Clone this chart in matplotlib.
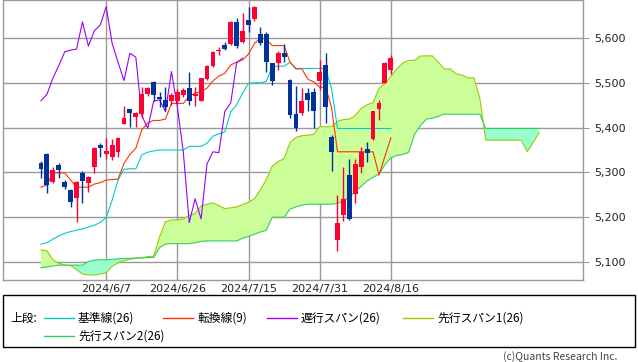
import matplotlib
matplotlib.use("Agg")
import matplotlib.pyplot as plt
from matplotlib.lines import Line2D
from matplotlib.patches import Rectangle
import numpy as np

plt.rcParams['font.family'] = ['Noto Sans CJK JP', 'DejaVu Sans']

# daily candles (bar 0 .. 59)
opens = [5320, 5341, 5279, 5316, 5279, 5261, 5242, 5299, 5277, 5313,
         5361, 5341, 5334, 5346, 5408, 5441, 5423, 5430, 5475, 5502,
         5469, 5462, 5459, 5460, 5473, 5488, 5471, 5460, 5508, 5538,
         5571, 5584, 5587, 5636, 5590, 5640, 5643, 5610, 5608, 5545,
         5545, 5567, 5506, 5430, 5432, 5477, 5480, 5505, 5540, 5378,
         5149, 5205, 5294, 5252, 5313, 5352, 5375, 5441, 5500, 5529]
highs = [5326, 5343, 5312, 5321, 5282, 5262, 5281, 5302, 5293, 5356,
         5365, 5376, 5375, 5379, 5448, 5441, 5435, 5490, 5490, 5505,
         5480, 5490, 5477, 5486, 5488, 5525, 5491, 5511, 5540, 5572,
         5581, 5590, 5638, 5644, 5655, 5669, 5671, 5624, 5613, 5545,
         5571, 5587, 5508, 5493, 5488, 5488, 5488, 5551, 5567, 5383,
         5250, 5313, 5331, 5331, 5357, 5368, 5437, 5462, 5546, 5561]
lows = [5287, 5254, 5276, 5288, 5263, 5222, 5190, 5232, 5257, 5298,
        5335, 5331, 5328, 5334, 5407, 5402, 5402, 5421, 5471, 5459,
        5447, 5436, 5450, 5455, 5468, 5450, 5448, 5459, 5506, 5536,
        5562, 5573, 5584, 5577, 5588, 5614, 5639, 5584, 5523, 5495,
        5529, 5546, 5421, 5392, 5428, 5436, 5398, 5484, 5410, 5302,
        5125, 5192, 5194, 5232, 5299, 5324, 5372, 5416, 5499, 5520]
closes = [5307, 5272, 5305, 5305, 5267, 5235, 5279, 5281, 5290, 5354,
          5354, 5348, 5361, 5376, 5422, 5433, 5433, 5475, 5488, 5473,
          5463, 5447, 5472, 5479, 5484, 5460, 5474, 5510, 5538, 5569,
          5573, 5575, 5636, 5582, 5616, 5629, 5670, 5588, 5546, 5505,
          5566, 5557, 5427, 5398, 5459, 5462, 5436, 5525, 5446, 5346,
          5188, 5241, 5196, 5319, 5346, 5344, 5436, 5455, 5545, 5555]

# conversion line (9) and base line (26)
tenkan = [5267, 5272, 5299, 5299, 5299, 5283, 5267, 5267, 5267, 5274,
          5277, 5283, 5284, 5285, 5320, 5340, 5354, 5395, 5410, 5416,
          5416, 5419, 5454, 5454, 5454, 5470, 5477, 5480, 5488, 5504,
          5515, 5521, 5540, 5546, 5551, 5564, 5588, 5600, 5597, 5583,
          5583, 5583, 5546, 5531, 5531, 5508, 5502, 5490, 5490, 5445,
          5346, 5346, 5346, 5346, 5346, 5346, 5346, 5294, 5336, 5377]
kijun = [5140, 5143, 5151, 5158, 5164, 5168, 5171, 5174, 5178, 5182,
         5188, 5199, 5238, 5283, 5307, 5308, 5308, 5339, 5345, 5348,
         5350, 5350, 5350, 5350, 5350, 5358, 5358, 5358, 5365, 5381,
         5386, 5390, 5435, 5451, 5477, 5499, 5500, 5500, 5503, 5537,
         5537, 5537, 5546, 5532, 5532, 5532, 5532, 5532, 5532, 5487,
         5398, 5398, 5398, 5398, 5398, 5398, 5398, 5398, 5398, 5398]

# leading spans, bar 0 .. 84 (25 bars ahead)
span1 = [5127, 5125, 5105, 5097, 5093, 5092, 5083, 5073, 5071, 5071,
         5073, 5076, 5090, 5098, 5103, 5106, 5108, 5110, 5112, 5113,
         5156, 5190, 5194, 5194, 5196, 5204, 5208, 5225, 5229, 5232,
         5226, 5219, 5221, 5223, 5228, 5233, 5241, 5261, 5284, 5314,
         5324, 5331, 5367, 5378, 5382, 5383, 5385, 5402, 5402, 5402,
         5414, 5418, 5419, 5427, 5443, 5451, 5456, 5488, 5498, 5514,
         5531, 5544, 5550, 5550, 5560, 5560, 5560, 5546, 5531, 5531,
         5520, 5517, 5511, 5511, 5466, 5372, 5372, 5372, 5372, 5372,
         5372, 5372, 5346, 5367, 5388]
span2 = [5087, 5089, 5091, 5093, 5093, 5093, 5093, 5093, 5101, 5104,
         5105, 5105, 5106, 5107, 5108, 5108, 5109, 5109, 5110, 5110,
         5132, 5140, 5141, 5141, 5141, 5141, 5143, 5146, 5147, 5147,
         5147, 5147, 5147, 5147, 5153, 5157, 5162, 5167, 5171, 5200,
         5200, 5200, 5218, 5223, 5227, 5229, 5229, 5229, 5229, 5229,
         5231, 5236, 5246, 5257, 5269, 5281, 5289, 5296, 5317, 5332,
         5338, 5340, 5345, 5385, 5405, 5419, 5421, 5425, 5430, 5430,
         5430, 5430, 5430, 5430, 5430, 5398, 5398, 5398, 5398, 5398,
         5398, 5398, 5398, 5398, 5398]

lag = 25
date_pos = [11, 23, 35, 47, 59]
date_labels = ["2024/6/7", "2024/6/26", "2024/7/15", "2024/7/31", "2024/8/16"]
price_ticks = [5100, 5200, 5300, 5400, 5500, 5600]

fig = plt.figure(figsize=(6.38, 3.62), dpi=100)
ax = fig.add_axes([3 / 638, 82 / 362, 580 / 638, 280 / 362])

n = len(closes)
x = np.arange(n)
xf = np.arange(len(span1))
s1 = np.array(span1)
s2 = np.array(span2)

ax.fill_between(xf, s1, s2, where=s1 >= s2, interpolate=True, color="#ccff99", lw=0, zorder=1)
ax.fill_between(xf, s1, s2, where=s1 < s2, interpolate=True, color="#99ffcc", lw=0, zorder=1)
ax.plot(xf, s1, color="#99cc00", lw=0.8, zorder=2)
ax.plot(xf, s2, color="#33cc66", lw=0.8, zorder=2)
ax.plot(x, kijun, color="#00cccc", lw=0.8, zorder=3)
ax.plot(x, tenkan, color="#ff3300", lw=0.8, zorder=3)
ax.plot(x[:n - lag], closes[lag:], color="#9900ff", lw=0.8, zorder=3)

for i in range(n):
    o, h, l, c = opens[i], highs[i], lows[i], closes[i]
    col = "#ff0033" if c >= o else "#003399"
    ax.vlines(i, l, h, color=col, lw=1, zorder=4)
    body = max(abs(c - o), 2.5)
    ax.bar(i, body, bottom=min(o, c), width=0.82, color=col, lw=0, zorder=5)

ax.set_xlim(-6.4, 91.4)
ax.set_ylim(5059.8, 5684.8)
ax.set_xticks(date_pos)
ax.set_xticklabels(date_labels)
ax.set_yticks(price_ticks)
ax.set_yticklabels([f"{p:,}" for p in price_ticks])
ax.yaxis.tick_right()
ax.tick_params(axis="y", length=4, color="#999999", pad=4, labelsize=8, labelcolor="#222222")
ax.tick_params(axis="x", length=0, pad=3, labelsize=8, labelcolor="#222222")
for lab in ax.get_xticklabels() + ax.get_yticklabels():
    lab.set_family("DejaVu Sans")
ax.grid(color="#999999", lw=1)
ax.set_axisbelow(True)
for sp in ax.spines.values():
    sp.set_color("#999999")
    sp.set_linewidth(1)

# legend box
W, H = 638, 362
fig.patches.append(Rectangle((3 / W, 1 - 347 / H), 632 / W, 52 / H, transform=fig.transFigure,
                             fill=False, edgecolor="black", lw=1))
fig.text(10 / W, 1 - 318 / H, "上段:", fontsize=8.5, va="center")
items = [
    (44, 318, "#00cccc", "基準線(26)"),
    (163, 318, "#ff3300", "転換線(9)"),
    (267, 318, "#9900ff", "遅行スパン(26)"),
    (403, 318, "#99cc00", "先行スパン1(26)"),
    (44, 336, "#33cc66", "先行スパン2(26)"),
]
for lx, ly, col, txt in items:
    yy = 1 - ly / H
    fig.lines.append(Line2D([lx / W, (lx + 30) / W], [yy, yy], transform=fig.transFigure, color=col, lw=1))
    fig.text((lx + 34) / W, yy, txt, fontsize=8.5, va="center")

fig.text(617 / W, 1 - 357 / H, "(c)Quants Research Inc.", fontsize=7.5, ha="right", va="center",
         color="#444444")

fig.savefig("out.png", dpi=100)
